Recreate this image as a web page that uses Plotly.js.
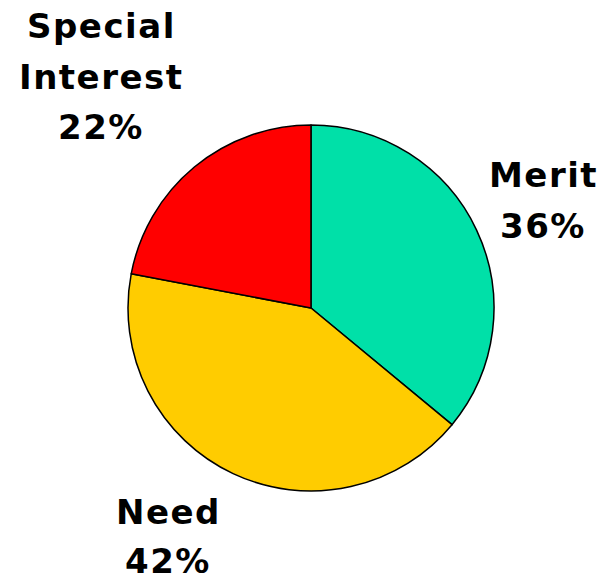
<!DOCTYPE html>
<html>
<head>
<meta charset="utf-8">
<script src="https://cdn.plot.ly/plotly-3.0.1.min.js"></script>
<style>html,body{margin:0;padding:0;background:#fff;}#chart{width:604px;height:581px;}
.annotation-text{letter-spacing:1.5px;}</style>
</head>
<body>
<div id="chart"></div>
<script>
const categories = ["Merit", "Need", "Special Interest"];
const labelLines = [["Merit"], ["Need"], ["Special", "Interest"]];
const values = [36, 42, 22];
const colors = ["#00E0A8", "#FFCC00", "#FF0000"];

// label placement (pixel centres of each label block's lines)
const W = 604, H = 581;
const labelPos = [
  {x: 543, ys: [175, 226]},
  {x: 168, ys: [512, 561]},
  {x: 101, ys: [26, 77, 127]}
];

const total = values.reduce((a, b) => a + b, 0);
const annotations = [];
categories.forEach((c, i) => {
  const lines = labelLines[i].concat([Math.round(values[i] / total * 100) + "%"]);
  lines.forEach((t, j) => {
    annotations.push({
      text: "<b>" + t + "</b>",
      xref: "paper", yref: "paper",
      x: labelPos[i].x / W, y: 1 - labelPos[i].ys[j] / H,
      xanchor: "center", yanchor: "middle",
      showarrow: false,
      font: {family: "DejaVu Sans", size: 34, color: "#000"}
    });
  });
});

const cx = 311, cy = 308, r = 183;
const data = [{
  type: "pie",
  labels: categories,
  values: values,
  sort: false,
  direction: "clockwise",
  rotation: 0,
  textinfo: "none",
  hoverinfo: "label+percent",
  marker: {colors: colors, line: {color: "#000", width: 1.5}},
  domain: {x: [(cx - r) / W, (cx + r) / W], y: [1 - (cy + r) / H, 1 - (cy - r) / H]}
}];

const layout = {
  width: W, height: H,
  margin: {l: 0, r: 0, t: 0, b: 0},
  showlegend: false,
  paper_bgcolor: "#fff",
  annotations: annotations
};

Plotly.newPlot("chart", data, layout, {displayModeBar: false, staticPlot: true});
</script>
</body>
</html>
